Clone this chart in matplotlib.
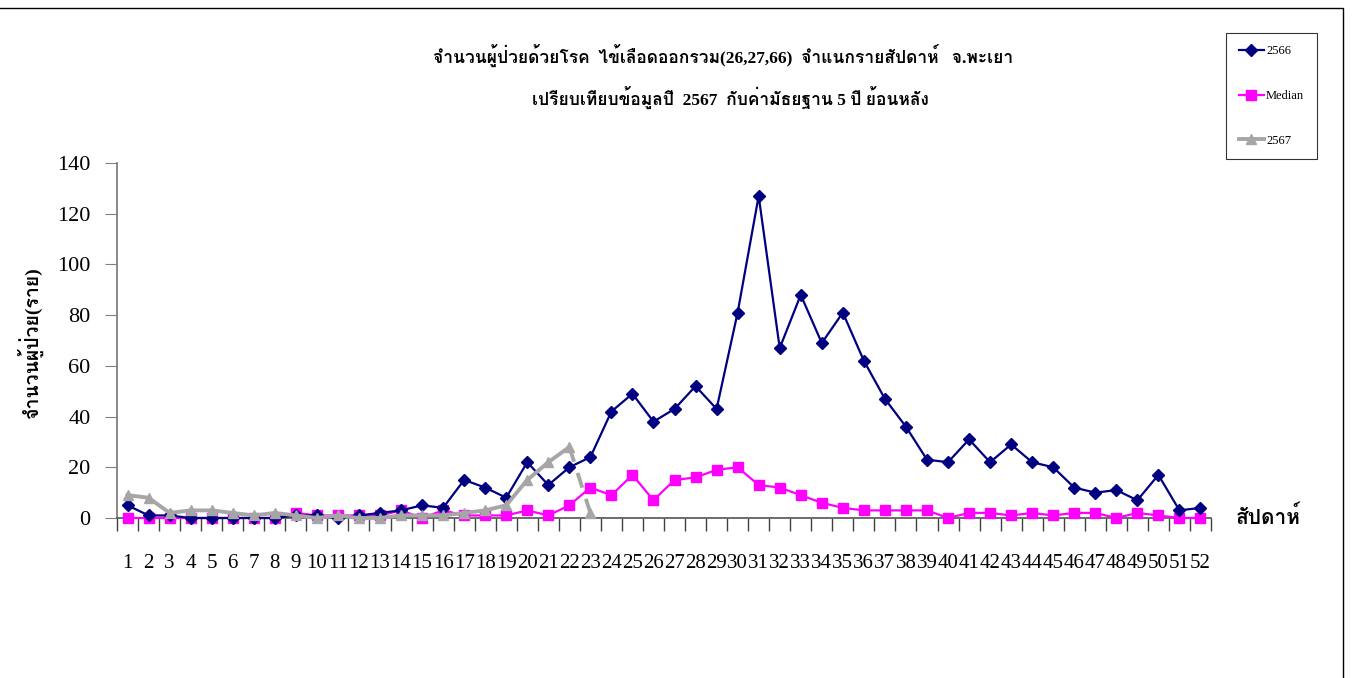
import numpy as np
import matplotlib
matplotlib.use("Agg")
from matplotlib import pyplot as plt
from matplotlib import font_manager, ft2font
from matplotlib.lines import Line2D
from matplotlib.patches import Rectangle

# find an installed font that has Thai glyphs
thai = None
for f in font_manager.fontManager.ttflist:
    try:
        if ft2font.FT2Font(f.fname).get_char_index(0x0E01):
            thai = f.name
            break
    except Exception:
        pass
fams = ['Liberation Serif'] + ([thai] if thai else []) + ['DejaVu Sans']
plt.rcParams['font.family'] = fams

weeks = list(range(1, 53))
y2566 = [5, 1, 1, 0, 0, 0, 0, 0, 1, 1, 0, 1, 2, 3, 5, 4, 15, 12, 8, 22, 13, 20, 24, 42, 49, 38,
         43, 52, 43, 81, 127, 67, 88, 69, 81, 62, 47, 36, 23, 22, 31, 22, 29, 22, 20, 12, 10, 11,
         7, 17, 3, 4]
median = [0, 0, 0, 0, 0, 0, 0, 0, 2, 1, 1, 1, 1, 3, 0, 3, 1, 1, 1, 3, 1, 5, 12, 9, 17, 7,
          15, 16, 19, 20, 13, 12, 9, 6, 4, 3, 3, 3, 3, 0, 2, 2, 1, 2, 1, 2, 2, 0, 2, 1, 0, 0]
y2567 = [9, 8, 2, 3, 3, 2, 1, 2, 1, 0, 1, 0, 0, 1, 1, 1, 2, 3, 5, 15, 22, 28]
y2567_next = 2  # dashed drop at week 23

title1 = "จำนวนผู้ป่วยด้วยโรค  ไข้เลือดออกรวม(26,27,66)  จำแนกรายสัปดาห์   จ.พะเยา"
title2 = "เปรียบเทียบข้อมูลปี  2567  กับค่ามัธยฐาน 5 ปี ย้อนหลัง"
ylabel = "จำนวนผู้ป่วย(ราย)"
xlabel = "สัปดาห์"

navy = '#000080'
mag = '#FF00FF'
grey = '#A6A6A6'

W, H = 1357, 678
fig = plt.figure(figsize=(W / 100, H / 100), dpi=100)
ax = fig.add_axes([117 / W, 1 - 518 / H, (1211 - 117) / W, (518 - 163) / H])

ax.plot(weeks, y2566, color=navy, lw=1.6, marker='D', ms=6, zorder=4, clip_on=False)
ax.plot(weeks, median, color=mag, lw=1.6, marker='s', ms=7, zorder=3, clip_on=False)
ax.plot(weeks[:22], y2567, color=grey, lw=2.8, marker='^', ms=7, zorder=5, clip_on=False)
ax.plot([22, 23], [y2567[-1], y2567_next], color=grey, lw=2.8, ls=(0, (4, 3)), zorder=5)
ax.plot([23], [y2567_next], color=grey, marker='^', ms=7, zorder=5, clip_on=False)

ax.set_xlim(0.5, 52.5)
ax.set_ylim(0, 140)
ax.set_yticks(range(0, 141, 20))
ax.set_xticks(weeks)
ax.set_xticklabels([str(w) for w in weeks], fontsize=15)
ax.set_xticks(np.arange(0.5, 53, 1), minor=True)
ax.tick_params(axis='x', which='major', length=0, pad=26)
ax.tick_params(axis='x', which='minor', length=9, direction='out', color='#404040', width=1)
ax.tick_params(axis='y', labelsize=16, length=9, direction='out', color='#808080', pad=10)
for s in ['top', 'right']:
    ax.spines[s].set_visible(False)
ax.spines['left'].set_color('#808080')
ax.spines['bottom'].set_color('#606060')
ax.spines['left'].set_linewidth(1.3)
ax.spines['bottom'].set_linewidth(1.3)

fig.text(723 / W, 1 - 55 / H, title1, ha='center', va='center', fontsize=12.5, fontweight='bold')
fig.text(730 / W, 1 - 97 / H, title2, ha='center', va='center', fontsize=12.5, fontweight='bold')
fig.text(30 / W, 1 - 342 / H, ylabel, ha='center', va='center', rotation=90,
         fontsize=14, fontweight='bold')
fig.text(1236 / W, 1 - 518 / H, xlabel, ha='left', va='center', fontsize=15, fontweight='bold')

# legend
handles = [Line2D([], [], color=navy, lw=1.6, marker='D', ms=6),
           Line2D([], [], color=mag, lw=1.6, marker='s', ms=7),
           Line2D([], [], color=grey, lw=2.8, marker='^', ms=7)]
leg = fig.legend(handles, ['2566', 'Median', '2567'], loc='upper left',
                 bbox_to_anchor=(1226 / W, 1 - 33 / H), fontsize=9, frameon=True,
                 fancybox=False, edgecolor='black', labelspacing=2.6, handlelength=2.0,
                 handletextpad=0.2, borderpad=1.0, borderaxespad=0)
leg.get_frame().set_linewidth(0.8)

# outer chart border
fig.add_artist(Rectangle((-0.01, -0.01), 1343 / W + 0.01, 1 - 8 / H + 0.01,
                         transform=fig.transFigure, fill=False, ec='black', lw=1))

fig.savefig('out.png', dpi=100)
